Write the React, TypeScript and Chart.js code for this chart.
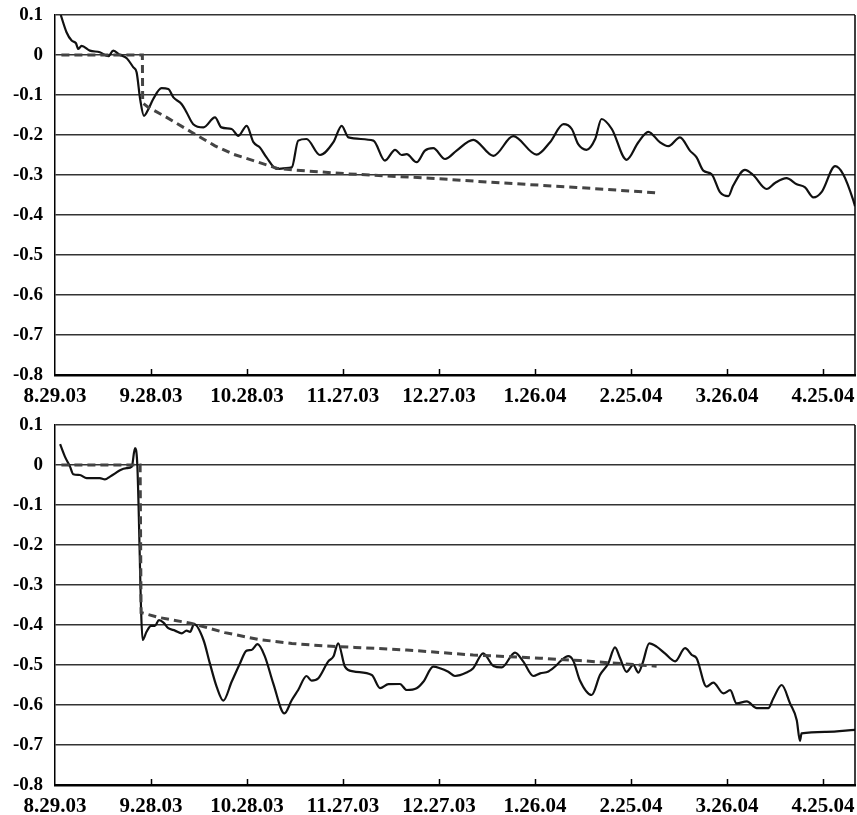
import React, { useEffect, useRef } from "react";
import { Chart, registerables } from "chart.js";

Chart.register(...registerables);

// x axis: days since 8.29.03
const X_MIN = 0;
const X_MAX = 250;
const X_TICK_DAYS = [0, 30, 60, 90, 120, 150, 180, 210, 240];
const X_TICK_LABELS = ["8.29.03", "9.28.03", "10.28.03", "11.27.03", "12.27.03", "1.26.04", "2.25.04", "3.26.04", "4.25.04"];
const Y_TICKS = [0.1, 0, -0.1, -0.2, -0.3, -0.4, -0.5, -0.6, -0.7, -0.8];

// Top panel, solid line
const TOP_SOLID_DAYS = [1.8, 3.6, 5.2, 6.5, 7.3, 8.3, 10.9, 14, 16.7, 18.2, 20.3, 22.4, 24.5, 25.5, 26.6, 27.8, 29.2, 30.7, 33.3, 35.4, 37, 39.6, 41.1, 43.2, 46.4, 50, 52, 55.2, 57.3, 59.9, 62, 64, 66.1, 69.3, 72, 74, 76, 78.6, 82.8, 87, 89.6, 91.7, 99.5, 103.1, 106.3, 108.3, 109.9, 113, 115.6, 118.2, 121.9, 125.5, 130.7, 137, 143.2, 150.5, 154.7, 158.9, 161.5, 163.5, 166.1, 168.8, 170.8, 174, 178.6, 182.3, 185.4, 189, 191.7, 195.3, 198.4, 200.5, 202.6, 205.2, 207.8, 210.4, 211.9, 215.6, 218.2, 222.4, 225, 228.6, 231.8, 234.4, 237, 239.6, 243.8, 246.3, 249.5, 250];
const TOP_SOLID_VALUES = [0.1, 0.057, 0.036, 0.03, 0.015, 0.023, 0.011, 0.007, -0.003, 0.011, 0, -0.008, -0.031, -0.043, -0.11, -0.152, -0.135, -0.11, -0.083, -0.085, -0.106, -0.123, -0.143, -0.173, -0.181, -0.156, -0.181, -0.185, -0.202, -0.177, -0.218, -0.231, -0.256, -0.285, -0.283, -0.281, -0.214, -0.21, -0.25, -0.218, -0.177, -0.206, -0.214, -0.264, -0.237, -0.25, -0.248, -0.268, -0.239, -0.233, -0.26, -0.239, -0.212, -0.252, -0.203, -0.249, -0.218, -0.173, -0.185, -0.223, -0.237, -0.21, -0.16, -0.185, -0.262, -0.218, -0.192, -0.218, -0.228, -0.206, -0.239, -0.256, -0.289, -0.298, -0.343, -0.353, -0.327, -0.287, -0.3, -0.335, -0.32, -0.308, -0.323, -0.331, -0.356, -0.342, -0.278, -0.298, -0.364, -0.378];

// Top panel, dashed line
const TOP_DASHED_DAYS = [2, 27.3, 27.4, 29.2, 34.9, 42.7, 50, 55.7, 62, 69.3, 75.5, 91.2, 117.2, 140, 163, 189];
const TOP_DASHED_VALUES = [0, 0, -0.12, -0.131, -0.156, -0.193, -0.227, -0.248, -0.264, -0.283, -0.288, -0.297, -0.308, -0.32, -0.331, -0.345];

// Bottom panel, solid line
const BOTTOM_SOLID_DAYS = [1.6, 3.1, 4.7, 5.7, 7.8, 9.9, 14, 15.6, 17.2, 18.8, 20.3, 22.4, 24, 25, 25.7, 27.4, 28.6, 30, 31.2, 32.5, 33.9, 35.4, 37.5, 39.6, 41.1, 42.2, 43.5, 46.4, 48.4, 50.5, 52.6, 55.2, 57.8, 59.9, 61.4, 63.3, 65.6, 68.2, 71.7, 74, 76, 78.6, 80.2, 82.3, 85.4, 87, 88.5, 90.6, 93.2, 99, 101.6, 104.2, 107.8, 109.9, 113, 115.1, 118.2, 120.3, 122.9, 125, 128.6, 130.7, 133.8, 137, 139.6, 143.75, 146.3, 149.5, 151.6, 154.2, 156.8, 158, 160.4, 162, 164, 167.7, 170.3, 172.9, 175, 176.6, 178.6, 180.7, 182.3, 183.6, 185.7, 188, 190.6, 193.8, 196.9, 199, 200.5, 203.6, 205.7, 208.9, 211, 213, 216.2, 219.3, 222.9, 224.5, 227.1, 229.7, 231.8, 232.8, 233.3, 241, 250];
const BOTTOM_SOLID_VALUES = [0.052, 0.021, -0.004, -0.023, -0.025, -0.033, -0.033, -0.036, -0.029, -0.021, -0.013, -0.008, -0.004, 0.042, 0.004, -0.4375, -0.417, -0.402, -0.402, -0.388, -0.394, -0.408, -0.414, -0.421, -0.414, -0.417, -0.398, -0.4375, -0.496, -0.554, -0.589, -0.542, -0.496, -0.464, -0.4625, -0.448, -0.479, -0.546, -0.621, -0.5875, -0.5625, -0.5275, -0.539, -0.533, -0.491, -0.479, -0.446, -0.504, -0.516, -0.525, -0.558, -0.548, -0.5475, -0.5625, -0.558, -0.542, -0.504, -0.508, -0.517, -0.5275, -0.519, -0.508, -0.471, -0.5025, -0.506, -0.469, -0.491, -0.5275, -0.521, -0.516, -0.5, -0.49, -0.478, -0.49, -0.538, -0.575, -0.525, -0.496, -0.456, -0.483, -0.517, -0.5, -0.519, -0.496, -0.446, -0.454, -0.471, -0.491, -0.458, -0.475, -0.483, -0.554, -0.544, -0.571, -0.563, -0.596, -0.591, -0.608, -0.608, -0.583, -0.55, -0.596, -0.638, -0.69, -0.671, -0.667, -0.662];

// Bottom panel, dashed line
const BOTTOM_DASHED_DAYS = [2, 26.6, 26.9, 32.3, 42.7, 53.1, 63.5, 74, 84.4, 93.75, 109.9, 130.7, 151.6, 164, 188];
const BOTTOM_DASHED_VALUES = [0, 0, -0.369, -0.381, -0.396, -0.419, -0.436, -0.446, -0.4525, -0.456, -0.4625, -0.475, -0.483, -0.489, -0.503];

const SERIF = '"Liberation Serif", "Times New Roman", "DejaVu Serif", serif';

function zip(days: number[], values: number[]) {
  return days.map((d, i) => ({ x: d, y: values[i] }));
}

const framePlugin = {
  id: "frame",
  afterDraw(chart: any) {
    const { ctx, chartArea, scales } = chart;
    const { right, top, bottom } = chartArea;
    ctx.save();
    ctx.strokeStyle = "#000";
    ctx.lineWidth = 1.5;
    ctx.beginPath();
    ctx.moveTo(right, top);
    ctx.lineTo(right, bottom);
    X_TICK_DAYS.forEach((d) => {
      if (d === X_MIN) return;
      const px = Math.round(scales.x.getPixelForValue(d)) + 0.5;
      ctx.moveTo(px, bottom);
      ctx.lineTo(px, bottom - 6);
    });
    ctx.stroke();
    ctx.restore();
  },
};

function Panel({ solid, dashed, top }: { solid: { x: number; y: number }[]; dashed: { x: number; y: number }[]; top: number }) {
  const ref = useRef<HTMLCanvasElement | null>(null);
  useEffect(() => {
    if (!ref.current) return;
    const chart = new Chart(ref.current, {
      type: "line",
      data: {
        datasets: [
          {
            data: dashed,
            borderColor: "#444",
            borderWidth: 3,
            borderDash: [8, 5],
            pointRadius: 0,
            tension: 0,
            fill: false,
          },
          {
            data: solid,
            borderColor: "#111",
            borderWidth: 2.2,
            pointRadius: 0,
            cubicInterpolationMode: "monotone",
            fill: false,
          },
        ],
      },
      options: {
        responsive: false,
        maintainAspectRatio: false,
        animation: false,
        layout: { padding: { top: 15, right: 2, left: 0, bottom: 0 } },
        plugins: { legend: { display: false }, tooltip: { enabled: false } },
        scales: {
          x: {
            type: "linear",
            min: X_MIN,
            max: X_MAX,
            afterBuildTicks: (s: any) => {
              s.ticks = X_TICK_DAYS.map((v) => ({ value: v }));
            },
            afterFit: (s: any) => {
              s.height = 30;
              s.paddingLeft = 0;
              s.paddingRight = 0;
            },
            grid: { display: true, color: "rgba(0,0,0,0)", drawTicks: false },
            border: { display: true, color: "#000", width: 2.5 },
            ticks: {
              padding: 9,
              color: "#000",
              autoSkip: false,
              maxRotation: 0,
              font: { family: SERIF, size: 21, weight: "bold" },
              callback: (v: any) => {
                const i = X_TICK_DAYS.indexOf(Number(v));
                return i >= 0 ? X_TICK_LABELS[i] : "";
              },
            },
          },
          y: {
            type: "linear",
            min: -0.8,
            max: 0.1,
            afterBuildTicks: (s: any) => {
              s.ticks = Y_TICKS.map((v) => ({ value: v }));
            },
            afterFit: (s: any) => {
              s.width = 55;
              s.paddingTop = 0;
              s.paddingBottom = 0;
            },
            grid: { color: "#333", lineWidth: 1.5, drawTicks: false },
            border: { display: true, color: "#000", width: 1.5 },
            ticks: {
              padding: 12,
              color: "#000",
              font: { family: SERIF, size: 19, weight: "bold" },
              callback: (v: any) => {
                const n = Number(v);
                return Math.abs(n) < 1e-9 ? "0" : n.toFixed(1);
              },
            },
          },
        },
      },
      plugins: [framePlugin],
    } as any);
    return () => chart.destroy();
  }, [solid, dashed]);
  return (
    <canvas
      ref={ref}
      width={857}
      height={405}
      style={{ position: "absolute", left: 0, top, width: 857, height: 405, display: "block" }}
    />
  );
}

const TOP_SOLID = zip(TOP_SOLID_DAYS, TOP_SOLID_VALUES);
const TOP_DASHED = zip(TOP_DASHED_DAYS, TOP_DASHED_VALUES);
const BOTTOM_SOLID = zip(BOTTOM_SOLID_DAYS, BOTTOM_SOLID_VALUES);
const BOTTOM_DASHED = zip(BOTTOM_DASHED_DAYS, BOTTOM_DASHED_VALUES);

export default function App() {
  return (
    <div style={{ position: "fixed", left: 0, top: 0, width: 857, height: 815, background: "#fff" }}>
      <Panel solid={TOP_SOLID} dashed={TOP_DASHED} top={0} />
      <Panel solid={BOTTOM_SOLID} dashed={BOTTOM_DASHED} top={410} />
    </div>
  );
}
